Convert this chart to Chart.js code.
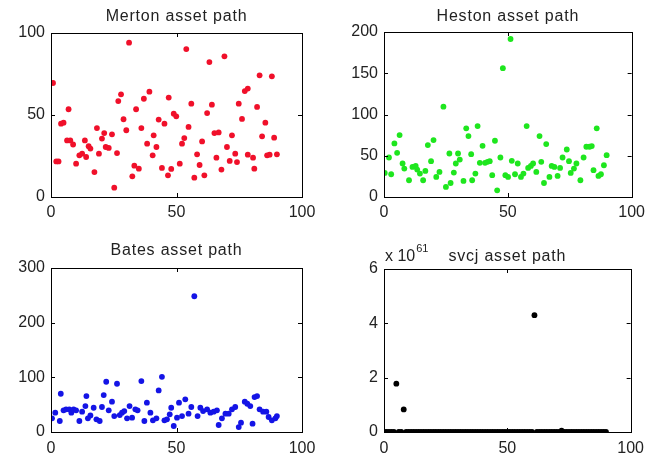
<!DOCTYPE html>
<html>
<head>
<meta charset="utf-8">
<script src="https://cdn.jsdelivr.net/npm/chart.js@4/dist/chart.umd.min.js"></script>
<style>
  html, body { margin: 0; padding: 0; background: #fff; }
  #wrap { position: relative; width: 651px; height: 456px; overflow: hidden; }
  canvas { position: absolute; }
</style>
</head>
<body>
<div id="wrap">
  <canvas id="merton" width="325" height="228" style="left:0;top:0"></canvas>
  <canvas id="heston" width="326" height="228" style="left:325px;top:0"></canvas>
  <canvas id="bates" width="325" height="228" style="left:0;top:228px"></canvas>
  <canvas id="svcj" width="326" height="228" style="left:325px;top:228px"></canvas>
</div>
<script>
// values
const xTicks = [0, 50, 100];

const mertonX = [0.8,2.1,3,4,5,6.4,7,7.7,8.8,10,11.3,12.4,13.5,14,15,15.7,17.3,18.3,19.1,20.3,21.2,21.8,23,24.3,25.2,26.3,26.8,27.9,28.9,30,31.1,32.4,33.2,33.9,35,36,37,38.3,39.2,40.5,40.9,42,42.9,44.2,45.2,46.6,46.9,47.9,48.9,49.9,51.3,52.2,53.1,53.9,54.8,55.9,57.1,58.2,59.2,60.2,61.1,62.2,63.1,64.1,65.1,65.9,66.8,67.9,69.1,70.1,71.2,72.1,73.4,74.1,74.8,76.1,77.2,78.4,78.4,80.5,81,82.1,83.1,84.1,85.4,86.1,87.1,88,88.9,90];
const mertonY = [69.5,21.7,21.7,44.7,45.3,34.5,53.5,34.5,32,20.3,25.4,26.4,34.5,24.4,31,29.5,15.2,42,26.4,35.6,39,30.5,29.9,38.2,5.7,26.8,58.5,62.6,47.4,40.7,94.1,12.6,19.1,53.5,17.3,42,59.9,32.5,64.2,25.4,37.6,30.5,47.2,17.7,44.7,13.2,60.6,17.1,50.8,49.2,20.3,32.5,35.9,90.2,42.7,56.9,11.8,26,19.5,33.9,13.2,51.2,82.3,56.3,39,24,39.4,16.7,85.8,30.5,22,37.6,26.4,21.3,56.9,47.6,64.6,66.1,25.8,24,17.3,54.9,74.2,37,45.3,25.4,25.8,73.6,36.2,26];
const mertonTicks = [0, 50, 100];

const hestonX = [0.3,2,2.9,4.2,5.3,6.3,7.5,8.2,10.1,11.5,12.8,13.4,14.5,15.8,16.7,17.7,19,20,21.1,22.4,24,25,26.4,26.9,28.2,29,29.9,30.6,32.1,33.2,34.1,35.2,35.6,36.9,37.8,38.7,39.8,40.8,41.8,42.7,43.7,44.8,45.7,47,48,49,50.1,51.1,51.6,52.9,54,55.3,56.3,57.6,58.2,59.3,60.2,61.5,62.8,63.5,64.6,65.5,66.8,67.7,68.8,70.1,71.1,72.1,73.8,74.7,75.4,76.7,77.7,79.3,80.6,81.7,83,83.9,84.6,85.9,86.6,87.6,88.8,89.9];
const hestonY = [29.2,47.9,27.6,64.9,53.5,75.1,40.6,34.5,20.3,36.5,37.7,33.3,28.4,20.3,31.6,62.9,43.4,69,24.3,30.4,109.5,12.2,52.7,17,29.6,40.6,52.7,45.4,19.5,83.2,73.8,51.9,20.3,28.4,86,41.4,62,41.4,42.6,43.4,26.4,68.2,8.1,47.9,156.2,26.4,24.3,191.5,43.8,27.6,40.6,24.3,28.4,86,35.3,37.7,40.6,30.4,73.8,42.6,17,64.1,24.3,37.7,36.5,25.6,35.3,47.9,57.6,43.4,29.2,34.5,40.6,20.3,47.9,60.9,60.9,61.7,32.5,83.2,25.6,27.6,38.5,50.7];
const hestonTicks = [0, 50, 100, 150, 200];

const batesX = [0.4,1.7,3.5,3.9,5,6,7.3,8.1,9,10,11.3,12.4,13.7,14.1,14.7,15.7,17,18.1,19.4,20.3,21,22,23,24.3,25.2,26.3,27.4,28.3,29.2,30.3,31.3,32.3,33.6,34.5,36,37.2,38.2,39.6,40.6,42,42.9,44.2,45.2,46.2,47.3,47.9,48.9,50.2,51,52.2,53.5,54.8,55.9,57.1,58.4,59.5,60.6,62.2,63.5,64.8,66.1,66.8,68.1,69.5,70.8,72.1,73.4,74.8,75.7,77.2,78.2,79.4,80.3,81.1,82.1,83.1,84.5,85.8,86.7,88,89.4,90];
const batesY = [25,35.3,20.1,70,39.6,41.4,41.4,35.3,41.4,39.6,20.1,37.1,47.5,65.7,25,30.4,44.4,23.1,20.1,45.7,67.6,91.9,39.6,55.4,29.2,88.3,31,35.3,38.3,25,47.5,26.2,41.4,39.6,93.1,20.1,53.6,35.3,21.3,25,76.1,101,21.3,23.1,32.3,44.4,11,26.2,53.6,29.2,59.7,33.5,45.7,248.3,29.2,44.4,38.3,41.4,35.3,37.1,39.6,12.8,25,33.5,33.5,41.4,45.7,9.1,17,55.4,51.7,47.5,15.2,63.9,65.7,41.4,37.1,37.1,27.4,21.3,25,29.2];
const batesTicks = [0, 100, 200, 300];

// svcj path, one value per step 0..90, in units of 1e61
const svcjY = [0,0,0,0,0,1.78,0,0,0.83,0,
  0,0,0,0,0,0,0,0,0,0,
  0,0,0,0,0,0,0,0,0,0,
  0,0,0,0,0,0,0,0,0,0,
  0,0,0,0,0,0,0,0,0,0,
  0,0,0,0,0,0,0,0,0,0,
  0,4.3,0,0,0,0,0,0,0,0,
  0,0,0.05,0,0,0,0,0,0,0,
  0,0,0,0,0,0,0,0,0,0,
  0];
const svcjTicks = [0, 2, 4, 6];

Chart.defaults.font.family = "'Liberation Sans', Arial, sans-serif";
Chart.defaults.font.size = 16;
Chart.defaults.color = '#222';

// MATLAB-like box, inward tick marks, title and exponent label
const matlabFrame = {
    id: 'matlabFrame',
    afterDatasetsDraw(chart, args, opts) {
        const { ctx, chartArea: a, scales } = chart;
        ctx.save();
        ctx.strokeStyle = '#000';
        ctx.lineWidth = 1;
        ctx.strokeRect(Math.round(a.left) + 0.5, Math.round(a.top) + 0.5,
            Math.round(a.right - a.left), Math.round(a.bottom - a.top));
        const tl = 4;
        ctx.beginPath();
        scales.x.ticks.forEach(t => {
            const px = Math.round(scales.x.getPixelForValue(t.value)) + 0.5;
            if (px <= a.left + 1 || px >= a.right - 1) return;
            ctx.moveTo(px, a.bottom); ctx.lineTo(px, a.bottom - tl);
            ctx.moveTo(px, a.top); ctx.lineTo(px, a.top + tl);
        });
        scales.y.ticks.forEach(t => {
            const py = Math.round(scales.y.getPixelForValue(t.value)) + 0.5;
            if (py <= a.top + 1 || py >= a.bottom - 1) return;
            ctx.moveTo(a.left, py); ctx.lineTo(a.left + tl, py);
            ctx.moveTo(a.right, py); ctx.lineTo(a.right - tl, py);
        });
        ctx.stroke();

        ctx.fillStyle = '#222';
        ctx.font = "16px 'Liberation Sans', Arial, sans-serif";
        ctx.letterSpacing = '0.8px';
        ctx.textAlign = 'center';
        ctx.textBaseline = 'alphabetic';
        ctx.fillText(opts.text, (a.left + a.right) / 2, a.top - opts.titleGap);

        if (opts.exponent) {
            ctx.letterSpacing = '0px';
            ctx.textAlign = 'left';
            ctx.fillText('x 10', a.left + 1, a.top - 8);
            const w = ctx.measureText('x 10').width;
            ctx.font = "11px 'Liberation Sans', Arial, sans-serif";
            ctx.fillText(opts.exponent, a.left + 2 + w, a.top - 17);
        }
        ctx.restore();
    }
};

function makePanel(id, xs, ys, yTicks, color, title, box, exponent) {
    const ctx = document.getElementById(id).getContext('2d');
    const yMax = yTicks[yTicks.length - 1];
    new Chart(ctx, {
        type: 'scatter',
        data: {
            datasets: [{
                data: ys.map((v, i) => ({ x: xs ? xs[i] : i, y: v })),
                backgroundColor: color,
                borderColor: color,
                pointRadius: 2.9,
                pointBorderWidth: 0,
                pointHoverRadius: 2.9
            }]
        },
        options: {
            responsive: false,
            animation: false,
            events: [],
            layout: { padding: { top: box.top, right: box.right, left: 0, bottom: 0 } },
            scales: {
                x: {
                    type: 'linear',
                    min: 0, max: 100,
                    afterBuildTicks: s => { s.ticks = xTicks.map(v => ({ value: v })); },
                    afterFit: s => { s.height = box.xh; },
                    grid: { display: false, drawTicks: false },
                    border: { display: false },
                    ticks: { padding: box.xpad, maxRotation: 0, color: '#222' }
                },
                y: {
                    type: 'linear',
                    min: 0, max: yMax,
                    afterBuildTicks: s => { s.ticks = yTicks.map(v => ({ value: v })); },
                    afterFit: s => { s.width = box.yw; },
                    grid: { display: false, drawTicks: false },
                    border: { display: false },
                    ticks: { padding: 6, color: '#222' }
                }
            },
            plugins: {
                legend: { display: false },
                tooltip: { enabled: false },
                matlabFrame: { text: title, titleGap: box.tgap, exponent: exponent }
            }
        },
        plugins: [matlabFrame]
    });
}

makePanel('merton', mertonX, mertonY, mertonTicks, '#f0102a', 'Merton asset path',
    { top: 33, right: 23, yw: 51, xh: 31, xpad: 6, tgap: 12 });
makePanel('heston', hestonX, hestonY, hestonTicks, '#1ee61e', 'Heston asset path',
    { top: 32, right: 14, yw: 59, xh: 31, xpad: 6, tgap: 11 });
makePanel('bates', batesX, batesY, batesTicks, '#1414e6', 'Bates asset path',
    { top: 40, right: 23, yw: 51, xh: 24, xpad: 7, tgap: 13 });
makePanel('svcj', null, svcjY, svcjTicks, '#000', 'svcj asset path',
    { top: 41, right: 14, yw: 59, xh: 24, xpad: 7, tgap: 8 }, '61');
</script>
</body>
</html>
